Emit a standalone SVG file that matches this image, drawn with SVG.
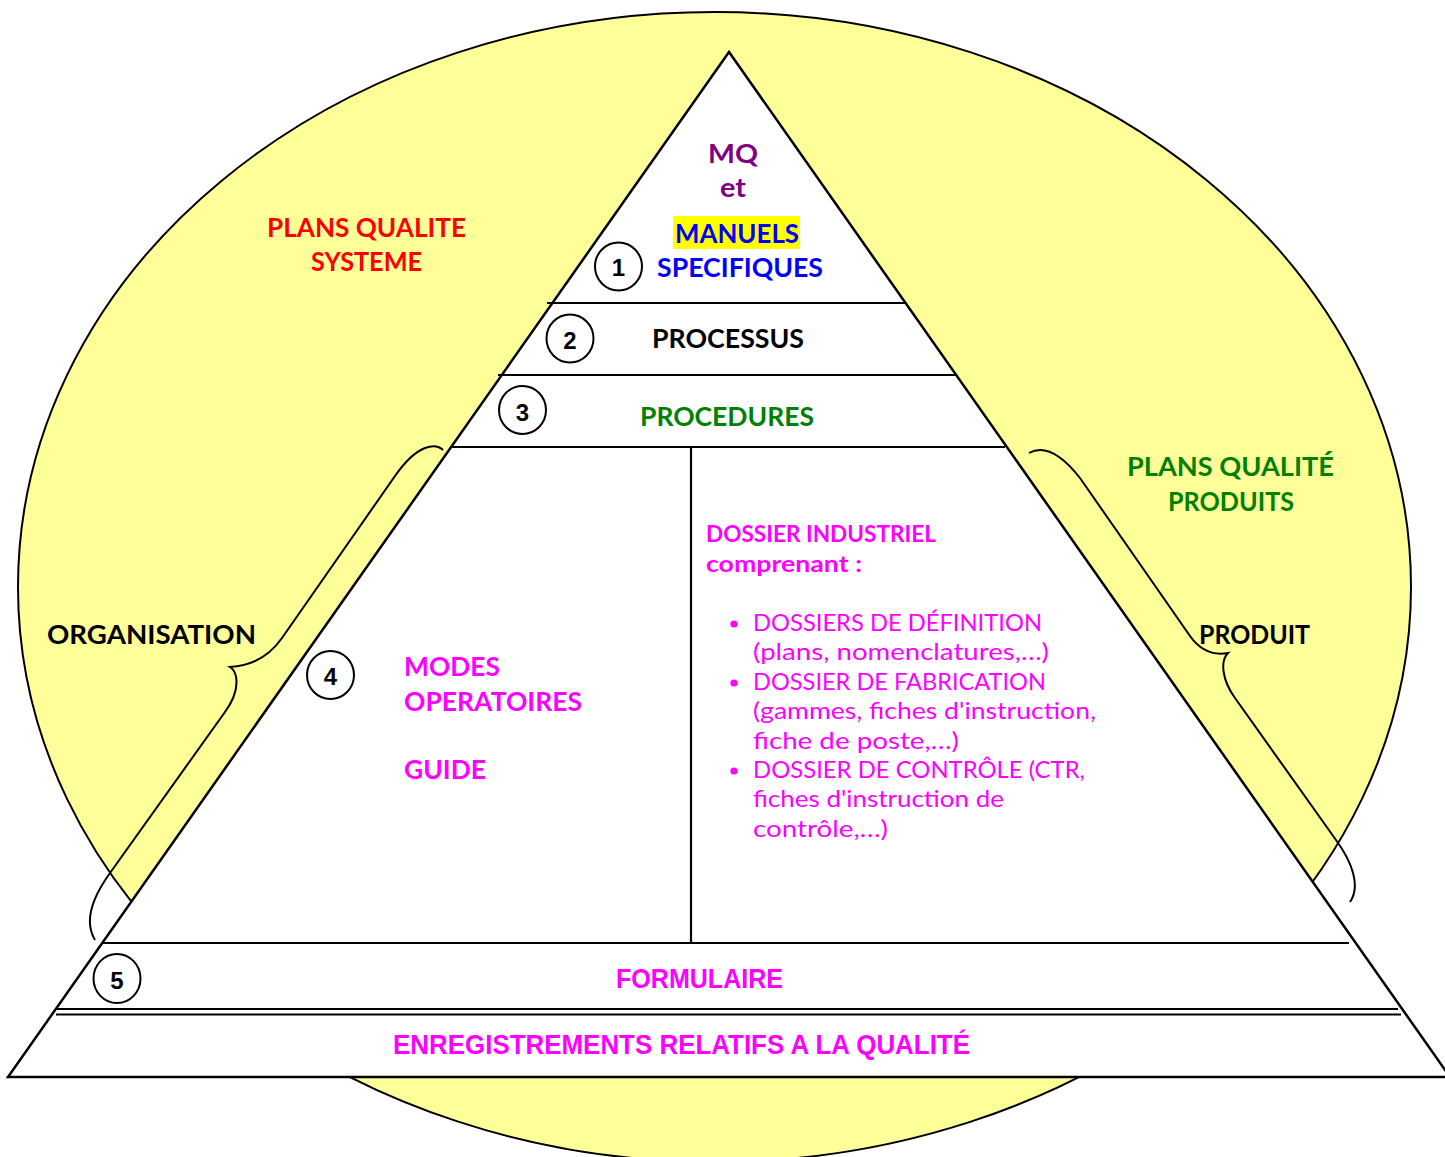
<svg xmlns="http://www.w3.org/2000/svg" width="1445" height="1157" viewBox="0 0 1445 1157">
<style>
.ln{stroke:#000;stroke-width:2.2;fill:none}
.br{stroke:#000;stroke-width:2;fill:none}
.t{font-family:"Lato","Liberation Sans",sans-serif;font-weight:bold;font-size:26px}
.c{font-family:"Lato","Liberation Sans",sans-serif;font-size:23px}
.cb{font-family:"Lato","Liberation Sans",sans-serif;font-weight:bold;font-size:23px}
.n{font-family:"Liberation Sans",Arial,sans-serif;font-weight:bold;font-size:24px;text-anchor:middle}
.k{font-family:"Liberation Sans",Arial,sans-serif;font-weight:bold;font-size:28px}
.num{fill:#fff;stroke:#000;stroke-width:2}
</style>
<rect width="1445" height="1157" fill="#fff"/>
<g id="cercle">
<ellipse cx="714.5" cy="587" rx="696.5" ry="575" fill="#FFFF99" stroke="#000" stroke-width="2"/>
</g>
<g id="pyramide">
<polygon points="729,52 8,1077 1450,1077" fill="#fff" stroke="#000" stroke-width="2.5" stroke-linejoin="miter"/>
</g>
<g id="connecteurs">
<line class="ln" x1="547" y1="303" x2="906" y2="303"/>
<line class="ln" x1="498" y1="375" x2="957" y2="375"/>
<line class="ln" x1="450" y1="447" x2="1005" y2="447"/>
<line class="ln" x1="102" y1="943" x2="1349" y2="943"/>
<line class="ln" x1="57" y1="1009" x2="1398" y2="1009"/>
<line class="ln" x1="56" y1="1014.5" x2="1401" y2="1014.5"/>
<line class="ln" x1="691" y1="447" x2="691" y2="943" stroke-width="2"/>
<path class="br" d="M443,450 C436,443 418,443 395,476 L282,638 C268,658 250,666 230,667 C238,672 241,690 225,712 L110,873 C92,898 84,922 95,940"/>
<path class="br" d="M1029,453 C1045,444 1062,455 1080,478 L1190,636 C1200,650 1212,656 1228,653 C1220,661 1222,680 1235,698 L1336,840 C1352,862 1361,886 1350,902"/>
</g>
<g id="n1">
<ellipse class="num" cx="618.5" cy="266.5" rx="23.5" ry="24"/>
<text class="n" x="618.5" y="276">1</text>
</g>
<g id="n2">
<ellipse class="num" cx="570" cy="338.5" rx="23.5" ry="24"/>
<text class="n" x="570" y="349">2</text>
</g>
<g id="n3">
<ellipse class="num" cx="522.5" cy="410" rx="23.5" ry="24"/>
<text class="n" x="522.5" y="421">3</text>
</g>
<g id="n4">
<ellipse class="num" cx="330.5" cy="675" rx="23.5" ry="24"/>
<text class="n" x="330.5" y="685">4</text>
</g>
<g id="n5">
<ellipse class="num" cx="117" cy="978.5" rx="23.5" ry="24.5"/>
<text class="n" x="117" y="989">5</text>
</g>
<g id="sommet">
<text class="t" x="708" y="163" fill="#800080" textLength="50" lengthAdjust="spacingAndGlyphs">MQ</text>
<text class="t" x="720" y="197" fill="#800080" textLength="26" lengthAdjust="spacingAndGlyphs">et</text>
<rect x="673" y="216" width="127" height="33" fill="#FFFF00"/>
<text class="t" x="675" y="243" fill="#0000FF" textLength="124" lengthAdjust="spacingAndGlyphs">MANUELS</text>
<text class="t" x="657" y="277" fill="#0000FF" textLength="166" lengthAdjust="spacingAndGlyphs">SPECIFIQUES</text>
</g>
<g id="processus">
<text class="t" x="652" y="348" fill="#000" textLength="152" lengthAdjust="spacingAndGlyphs">PROCESSUS</text>
</g>
<g id="procedures">
<text class="t" x="640" y="426" fill="#008000" textLength="174" lengthAdjust="spacingAndGlyphs">PROCEDURES</text>
</g>
<g id="plans-systeme">
<text class="t" x="267" y="237" fill="#FF0000" textLength="199" lengthAdjust="spacingAndGlyphs">PLANS QUALITE</text>
<text class="t" x="311" y="271" fill="#FF0000" textLength="111" lengthAdjust="spacingAndGlyphs">SYSTEME</text>
</g>
<g id="plans-produits">
<text class="t" x="1127" y="476" fill="#008000" textLength="207" lengthAdjust="spacingAndGlyphs">PLANS  QUALITÉ</text>
<text class="t" x="1168" y="511" fill="#008000" textLength="126" lengthAdjust="spacingAndGlyphs">PRODUITS</text>
</g>
<g id="organisation">
<text class="t" x="47" y="644" fill="#000" textLength="209" lengthAdjust="spacingAndGlyphs">ORGANISATION</text>
</g>
<g id="produit">
<text class="t" x="1199" y="644" fill="#000" textLength="111" lengthAdjust="spacingAndGlyphs">PRODUIT</text>
</g>
<g id="modes">
<text class="t" x="404" y="676" fill="#FF00FF" textLength="96" lengthAdjust="spacingAndGlyphs">MODES</text>
<text class="t" x="404" y="711" fill="#FF00FF" textLength="178" lengthAdjust="spacingAndGlyphs">OPERATOIRES</text>
<text class="t" x="404" y="779" fill="#FF00FF" textLength="82" lengthAdjust="spacingAndGlyphs">GUIDE</text>
</g>
<g id="dossier" fill="#FF00FF">
<text class="cb" x="706" y="542" textLength="230" lengthAdjust="spacingAndGlyphs">DOSSIER  INDUSTRIEL</text>
<text class="cb" x="706" y="572" textLength="156" lengthAdjust="spacingAndGlyphs">comprenant :</text>
<circle cx="734" cy="624" r="3.6"/>
<circle cx="734" cy="683" r="3.6"/>
<circle cx="734" cy="771" r="3.6"/>
<text class="c" x="753" y="631" textLength="289" lengthAdjust="spacingAndGlyphs">DOSSIERS  DE  DÉFINITION</text>
<text class="c" x="753" y="660" textLength="296" lengthAdjust="spacingAndGlyphs">(plans, nomenclatures,…)</text>
<text class="c" x="753" y="690" textLength="293" lengthAdjust="spacingAndGlyphs">DOSSIER DE FABRICATION</text>
<text class="c" x="753" y="719" textLength="343" lengthAdjust="spacingAndGlyphs">(gammes, fiches d'instruction,</text>
<text class="c" x="753" y="749" textLength="206" lengthAdjust="spacingAndGlyphs">fiche de poste,…)</text>
<text class="c" x="753" y="778" textLength="332" lengthAdjust="spacingAndGlyphs">DOSSIER DE CONTRÔLE (CTR,</text>
<text class="c" x="753" y="807" textLength="251" lengthAdjust="spacingAndGlyphs">fiches d'instruction de</text>
<text class="c" x="753" y="837" textLength="135" lengthAdjust="spacingAndGlyphs">contrôle,…)</text>
</g>
<g id="formulaire">
<text class="k" x="616" y="988" fill="#FF00FF" textLength="167" lengthAdjust="spacingAndGlyphs">FORMULAIRE</text>
</g>
<g id="enregistrements">
<text class="k" x="393" y="1054" fill="#FF00FF" textLength="577" lengthAdjust="spacingAndGlyphs">ENREGISTREMENTS  RELATIFS  A  LA  QUALITÉ</text>
</g>
</svg>
